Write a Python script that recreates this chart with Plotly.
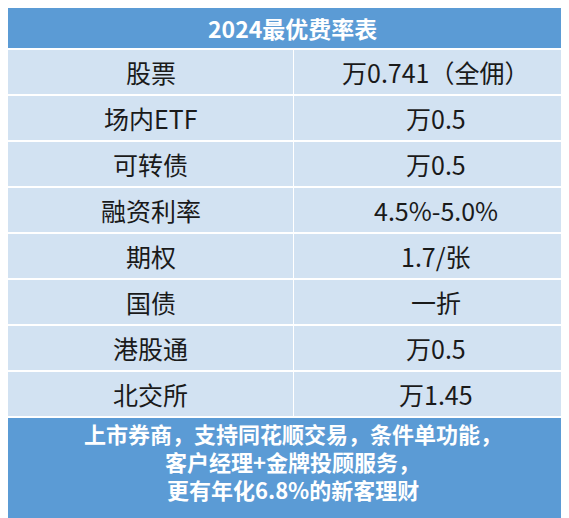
import plotly.graph_objects as go

title = "2024最优费率表"
items = ["股票", "场内ETF", "可转债", "融资利率", "期权", "国债", "港股通", "北交所"]
rates = ["万0.741（全佣）", "万0.5", "万0.5", "4.5%-5.0%", "1.7/张", "一折", "万0.5", "万1.45"]
footer = ["上市券商，支持同花顺交易，条件单功能，", "客户经理+金牌投顾服务，", "更有年化6.8%的新客理财"]

W, H = 569, 518
blue = "#5b9bd5"
cell = "#d2e2f2"
font = "Noto Sans CJK SC"

head_h = 40
row_h = 46
top = head_h + 1
split = 285
foot_top = top + row_h * len(items) + 1

fig = go.Figure()
shapes = [dict(type="rect", x0=0, x1=W, y0=0, y1=head_h, fillcolor=blue, line_width=0)]
ann = [dict(x=W / 2, y=head_h / 2, text=title, showarrow=False,
            font=dict(size=23, color="white", family=font, weight="bold"))]
for i, (a, b) in enumerate(zip(items, rates)):
    y0 = top + i * row_h
    for x0, x1, t in [(0, split, a), (split + 1, W, b)]:
        shapes.append(dict(type="rect", x0=x0, x1=x1, y0=y0 + 1, y1=y0 + row_h - 1,
                           fillcolor=cell, line_width=0))
        ann.append(dict(x=(x0 + x1) / 2, y=y0 + row_h / 2, text=t, showarrow=False,
                        font=dict(size=25, color="#1a1a1a", family=font)))
shapes.append(dict(type="rect", x0=0, x1=W, y0=foot_top, y1=H - 3, fillcolor=blue, line_width=0))
for i, t in enumerate(footer):
    ann.append(dict(x=W / 2, y=foot_top + 15 + 28 * i, text=t, showarrow=False,
                    font=dict(size=22, color="white", family=font, weight="bold")))

fig.update_layout(width=W, height=H, margin=dict(l=0, r=0, t=0, b=0),
                  plot_bgcolor="white", paper_bgcolor="white", shapes=shapes, annotations=ann,
                  xaxis=dict(range=[0, W], visible=False),
                  yaxis=dict(range=[H, 0], visible=False), showlegend=False)
fig.write_html("out.html")
